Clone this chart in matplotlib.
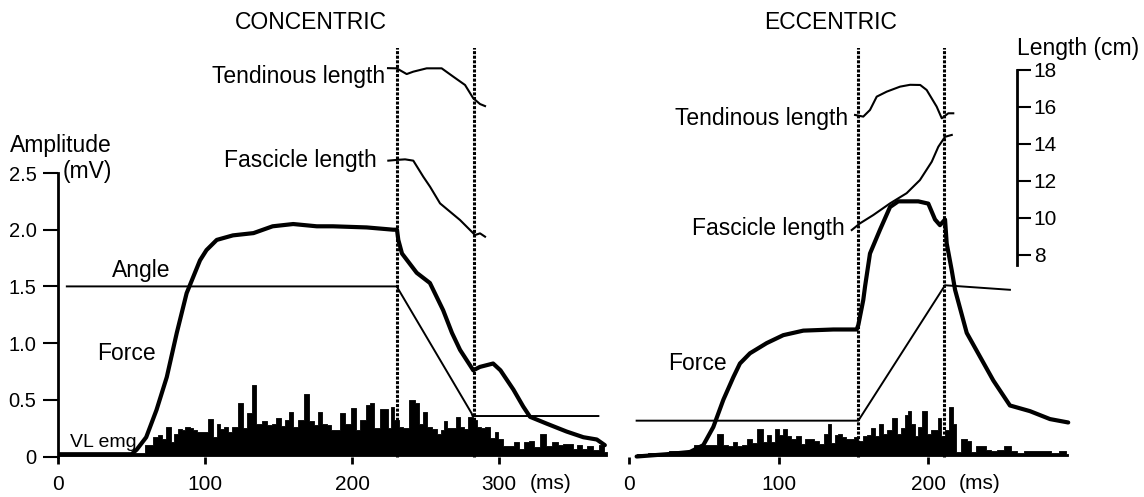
import matplotlib
matplotlib.use("Agg")
import matplotlib.pyplot as plt

plt.rcParams['font.family'] = ['Liberation Sans', 'DejaVu Sans']

# ---- CONCENTRIC (time in ms, force/angle/emg in mV units, lengths in cm)
con_force_t = [0, 50, 53.5, 60, 67, 74, 80.8, 87.5, 96.6, 101, 108, 119, 133, 146, 160, 176, 187, 210, 228,
               230.6, 231.5, 234, 244, 253, 262, 268, 273.5, 282.5, 287, 296, 301, 309.8, 316.5, 321.1, 332.4,
               346, 357.4, 366.5, 372]
con_force_v = [0.02, 0.02, 0.06, 0.17, 0.41, 0.70, 1.09, 1.44, 1.73, 1.82, 1.91, 1.95, 1.97, 2.03, 2.05, 2.03,
               2.03, 2.02, 2.0, 2.0, 1.91, 1.79, 1.62, 1.53, 1.29, 1.09, 0.94, 0.76, 0.79, 0.82, 0.76, 0.59, 0.44,
               0.35, 0.29, 0.22, 0.17, 0.15, 0.10]
con_angle_t = [6, 230.4, 281.4, 282, 367.6]
con_angle_v = [1.5, 1.5, 0.38, 0.357, 0.357]
con_tend_t = [224.5, 230.4, 237.2, 241.7, 250.8, 261, 268.9, 276.9, 282.5, 287.1, 290.5]
con_tend_cm = [18.1, 18.09, 17.78, 17.91, 18.09, 18.09, 17.64, 17.19, 16.47, 16.16, 16.05]
con_fasc_t = [224.7, 230.4, 236.1, 241.7, 248.5, 253.1, 259.9, 266.7, 273.5, 280.3, 283.7, 287.1, 290.5]
con_fasc_cm = [13.10, 13.14, 13.17, 13.10, 12.23, 11.69, 10.79, 10.34, 9.89, 9.35, 9.08, 9.17, 8.99]
con_emg_t = [0, 56, 62.6, 66, 69.4, 71.7, 75.7, 78, 79.6, 83.4, 85, 88, 91, 93, 95.5, 97.7, 100.7, 103.9, 106.7,
             109, 111.3, 114.7, 117, 120.4, 124.3, 127.2, 130.6, 132.9, 136.3, 140.8, 144.2, 146.9, 150.3, 153.3,
             155.6, 159, 161.3, 165.8, 169.2, 172.6, 176, 178.2, 181.6, 183.9, 187.3, 190.3, 193, 197.6, 200.9,
             204.3, 207.2, 211.6, 213.4, 216.8, 221.3, 223.6, 225.9, 227, 230.4, 233.8, 236.1, 241.7, 244.4, 247.4,
             249, 252.6, 255.8, 259.5, 262.2, 263.5, 266.3, 268.9, 272.3, 275.3, 277.6, 280.3, 283.7, 286.6, 288.9,
             292.1, 295.8, 298.4, 300.7, 304.1, 308.6, 312, 315.4, 318.4, 322.2, 325.6, 330.2, 333.6, 338.1, 341.5,
             344.9, 348.3, 351.7, 355.1, 358.5, 361.9, 366.4, 369.8, 373.2]
con_emg_v = [0.02, 0.03, 0.10, 0.17, 0.19, 0.15, 0.26, 0.13, 0.20, 0.24, 0.23, 0.26, 0.25, 0.23, 0.22, 0.22, 0.22,
             0.33, 0.17, 0.29, 0.24, 0.26, 0.22, 0.26, 0.47, 0.25, 0.38, 0.63, 0.29, 0.31, 0.28, 0.29, 0.34, 0.27,
             0.32, 0.39, 0.26, 0.32, 0.55, 0.31, 0.28, 0.39, 0.29, 0.28, 0.23, 0.23, 0.38, 0.29, 0.43, 0.23, 0.32,
             0.45, 0.47, 0.25, 0.42, 0.42, 0.25, 0.44, 0.32, 0.26, 0.25, 0.50, 0.47, 0.29, 0.39, 0.26, 0.24, 0.20,
             0.23, 0.31, 0.25, 0.25, 0.35, 0.26, 0.24, 0.35, 0.32, 0.26, 0.25, 0.26, 0.16, 0.22, 0.15, 0.09, 0.09,
             0.13, 0.07, 0.13, 0.14, 0.08, 0.20, 0.09, 0.13, 0.10, 0.11, 0.11, 0.07, 0.10, 0.07, 0.09, 0.06, 0.10,
             0.04]
con_marks = [230.4, 283]

# ---- ECCENTRIC
ecc_force_t = [5.1, 25.2, 40.8, 49.7, 56.4, 63.1, 69.8, 74.2, 80.9, 92.1, 103.2, 116.6, 136.7, 152.3, 153.4,
               156.7, 157.9, 161.2, 167.9, 174.6, 180.1, 193.5, 200.2, 204.7, 208, 211.4, 212.5, 215.9, 218.1,
               225.9, 234.8, 243.7, 254.8, 268.2, 281.6, 293.8]
ecc_force_v = [0.0, 0.02, 0.04, 0.10, 0.26, 0.50, 0.70, 0.82, 0.91, 1.0, 1.07, 1.11, 1.12, 1.12, 1.16,
               1.38, 1.50, 1.79, 2.0, 2.20, 2.25, 2.25, 2.23, 2.09, 2.04, 2.09, 1.88, 1.64, 1.47,
               1.09, 0.88, 0.67, 0.45, 0.40, 0.33, 0.30]
ecc_angle_t = [5.1, 153.4, 211.4, 254.8]
ecc_angle_v = [0.316, 0.316, 1.51, 1.47]
ecc_tend_t = [151.2, 156.7, 161.2, 165.7, 172.4, 181.3, 188, 194.8, 199.1, 205.8, 209.2, 213.6, 216.9]
ecc_tend_cm = [15.57, 15.48, 15.84, 16.56, 16.83, 17.1, 17.2, 17.19, 16.92, 16.02, 15.39, 15.66, 15.66]
ecc_fasc_t = [149, 154.5, 163.4, 174.6, 185.7, 194.6, 202.5, 206.9, 211.4, 215.9]
ecc_fasc_cm = [9.35, 9.71, 10.16, 10.79, 11.34, 12.05, 13.04, 13.85, 14.39, 14.49]
ecc_emg_t = [5.1, 20, 34, 53, 56.8, 60.9, 64.2, 67.6, 70.9, 74.2, 77.6, 80.9, 84.3, 87.6, 91, 93.2, 96.1, 98.8,
             102.2, 104.4, 106.6, 109.9, 113.3, 116.6, 118.4, 122.2, 125.5, 128.9, 132.2, 134, 136.7, 138.5,
             140.8, 143.5, 146.2, 149.1, 151.3, 154.7, 158, 161, 163.4, 166.1, 168.4, 171.2, 174.6, 177.9, 180.2,
             183.1, 185.7, 187.5, 190.2, 191.9, 194.2, 198, 200.9, 203.6, 205.8, 207.6, 210.3, 212.5, 215.8, 218,
             219.2, 224.7, 226.9, 230.2, 233.6, 236.9, 240.3, 243.6, 248.1, 253.6, 257, 261.5, 267.1, 272.7, 279.4,
             285, 290.5, 293.8]
ecc_emg_v = [0.02, 0.03, 0.05, 0.10, 0.10, 0.20, 0.10, 0.09, 0.13, 0.09, 0.10, 0.15, 0.12, 0.24, 0.13, 0.19, 0.13,
             0.24, 0.19, 0.24, 0.18, 0.15, 0.18, 0.11, 0.15, 0.15, 0.14, 0.11, 0.20, 0.29, 0.12, 0.19, 0.20, 0.17,
             0.15, 0.15, 0.17, 0.14, 0.18, 0.19, 0.25, 0.18, 0.29, 0.20, 0.23, 0.34, 0.20, 0.25, 0.37, 0.40, 0.29,
             0.18, 0.26, 0.40, 0.20, 0.23, 0.23, 0.34, 0.18, 0.23, 0.44, 0.29, 0.04, 0.15, 0.14, 0.04, 0.09, 0.09,
             0.06, 0.05, 0.06, 0.09, 0.05, 0.03, 0.05, 0.05, 0.05, 0.03, 0.05, 0.02]
ecc_marks = [153, 211]

amp_ticks = [0, 0.5, 1.0, 1.5, 2.0, 2.5]
amp_labels = ['0', '0.5', '1.0', '1.5', '2.0', '2.5']
len_ticks = [8, 10, 12, 14, 16, 18]

W, H = 1144, 497


def fx(x):
    return x / W


def fy(y):
    return 1 - y / H


fig = plt.figure(figsize=(W / 100, H / 100), dpi=100)
bottom, height = fy(467.84), (467.84 - 48.26) / H
ax1 = fig.add_axes([fx(58), bottom, 558.6 / W, height])
ax2 = fig.add_axes([fx(629), bottom, 448.5 / W, height])


def panel(ax, xmax, ticks, ft, fv, at, av, tt, tc, st, sc, et, ev, marks):
    ax.set_xlim(0, xmax)
    ax.set_ylim(-0.1, 3.6)
    ax.patch.set_alpha(0)
    # rectified emg drawn as narrow columns
    ax.fill_between(et, 0, ev, step='mid', color='black', lw=0.6, zorder=2)
    ax.plot(at, av, color='black', lw=1.4, zorder=3)
    ax.plot(ft, fv, color='black', lw=3.0, solid_capstyle='round', zorder=4)
    for m in marks:
        ax.vlines(m, 0, 3.61, color='black', lw=2.2, linestyles=(0, (1.0, 0.5)), zorder=5)
    for s in ['top', 'right']:
        ax.spines[s].set_visible(False)
    ax.spines['bottom'].set_position(('data', 0))
    ax.spines['bottom'].set_color('none')
    ax.set_xticks(ticks)
    ax.tick_params(axis='x', direction='out', length=5, width=2, pad=8, labelsize=15, color='black')
    ln = ax.twinx()
    ln.set_ylim(-3.505, 19.175)
    ln.patch.set_alpha(0)
    ln.plot(tt, tc, color='black', lw=1.5)
    ln.plot(st, sc, color='black', lw=1.5)
    for s in ['top', 'left', 'bottom']:
        ln.spines[s].set_visible(False)
    return ln


l1 = panel(ax1, 380, [0, 100, 200, 300], con_force_t, con_force_v, con_angle_t, con_angle_v,
           con_tend_t, con_tend_cm, con_fasc_t, con_fasc_cm, con_emg_t, con_emg_v, con_marks)
l2 = panel(ax2, 300, [0, 100, 200], ecc_force_t, ecc_force_v, ecc_angle_t, ecc_angle_v,
           ecc_tend_t, ecc_tend_cm, ecc_fasc_t, ecc_fasc_cm, ecc_emg_t, ecc_emg_v, ecc_marks)

ax1.spines['left'].set_bounds(0, 2.5)
ax1.spines['left'].set_linewidth(2)
ax1.set_yticks(amp_ticks)
ax1.set_yticklabels(amp_labels)
ax1.tick_params(axis='y', direction='out', length=10.5, width=1.5, pad=5, labelsize=14.5)

ax2.spines['left'].set_visible(False)
ax2.set_yticks([])

l1.spines['right'].set_visible(False)
l1.set_yticks([])
l2.spines['right'].set_position(('axes', (1017 - 629) / 448.5))
l2.spines['right'].set_bounds(7.45, 18)
l2.spines['right'].set_linewidth(2)
l2.set_yticks(len_ticks)
l2.tick_params(axis='y', direction='out', length=10, width=1.5, pad=2, labelsize=15)

txt = dict(fontsize=16.5, color='black')
fig.text(fx(311), fy(29), 'CONCENTRIC', ha='center', va='baseline', **txt)
fig.text(fx(831), fy(29), 'ECCENTRIC', ha='center', va='baseline', **txt)
fig.text(fx(61), fy(152), 'Amplitude', ha='center', va='baseline', **txt)
fig.text(fx(63), fy(178), '(mV)', ha='left', va='baseline', **txt)
fig.text(fx(385), fy(83), 'Tendinous length', ha='right', va='baseline', **txt)
fig.text(fx(377), fy(167), 'Fascicle length', ha='right', va='baseline', **txt)
fig.text(fx(112), fy(277), 'Angle', ha='left', va='baseline', **txt)
fig.text(fx(97), fy(360), 'Force', ha='left', va='baseline', **txt)
fig.text(fx(70), fy(447), 'VL emg', ha='left', va='baseline', fontsize=14, color='black')
fig.text(fx(848), fy(125), 'Tendinous length', ha='right', va='baseline', **txt)
fig.text(fx(845), fy(235), 'Fascicle length', ha='right', va='baseline', **txt)
fig.text(fx(668), fy(370), 'Force', ha='left', va='baseline', **txt)
fig.text(fx(1017), fy(55), 'Length (cm)', ha='left', va='baseline', **txt)
fig.text(fx(551), fy(489), '(ms)', ha='center', va='baseline', fontsize=15)
fig.text(fx(980), fy(489), '(ms)', ha='center', va='baseline', fontsize=15)

fig.savefig('out.png', dpi=100)
